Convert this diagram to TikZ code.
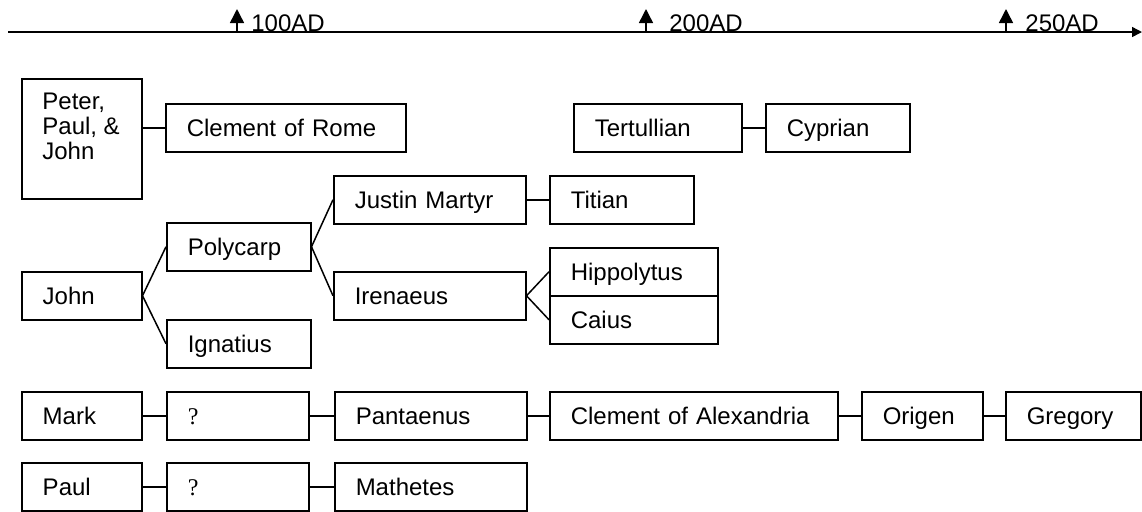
\documentclass[tikz,border=0pt]{standalone}
\usepackage{fontspec}
\setmainfont{Liberation Sans}
\newfontfamily\qmarkfont{Liberation Serif}
\usetikzlibrary{arrows.meta}

\begin{document}
\begin{tikzpicture}[
        x=0.5pt, y=-0.5pt,
        every node/.style={font=\fontsize{12}{12.5}\selectfont},
        father-node/.style={draw, line width=0.75pt, anchor=north west,
            inner xsep=10.5pt, inner ysep=0pt, minimum height=24pt,
            text height=8.6pt, text depth=0pt, align=left, text width=#1},
        year-node/.style={anchor=base west, inner sep=0pt},
        link/.style={line width=0.75pt}
    ]
        \useasboundingbox (0,0) rectangle (1142,511);

        % time line
        \coordinate (axis-start) at (8,32);
        \coordinate (axis-end) at (1142,32);
        \draw[link, -{Triangle[length=5pt,width=5pt]}] (axis-start) -- (axis-end);

        \coordinate (y100-foot) at (237,32);
        \coordinate (y100-head) at (237,9);
        \coordinate (y200-foot) at (646,32);
        \coordinate (y200-head) at (646,9);
        \coordinate (y250-foot) at (1006,32);
        \coordinate (y250-head) at (1006,9);
        \draw[link, -{Triangle[length=7pt,width=7pt]}] (y100-foot) -- (y100-head);
        \draw[link, -{Triangle[length=7pt,width=7pt]}] (y200-foot) -- (y200-head);
        \draw[link, -{Triangle[length=7pt,width=7pt]}] (y250-foot) -- (y250-head);
        \node[year-node] (y100) at (251,31) {100AD};
        \node[year-node] (y200) at (669,31) {200AD};
        \node[year-node] (y250) at (1025,31) {250AD};

        % apostles
        \node[draw, line width=0.75pt, anchor=north west, minimum width=60pt,
            minimum height=60pt] (apostles) at (21,78) {};
        \node[anchor=north west, inner sep=0pt, align=left] (apostles-text) at (42,93) {Peter,\\Paul, \&\\John};
        \node[father-node=99pt] (clement-rome) at (165,103) {Clement of Rome};

        \node[father-node=63pt] (tertullian) at (573,103) {Tertullian};
        \node[father-node=51pt] (cyprian) at (765,103) {Cyprian};

        % John's line
        \node[father-node=39pt] (john) at (21,271) {John};
        \node[father-node=51pt] (polycarp) at (166,222) {Polycarp};
        \node[father-node=51pt] (ignatius) at (166,319) {Ignatius};
        \node[father-node=75pt] (justin) at (333,175) {Justin Martyr};
        \node[father-node=51pt] (titian) at (549,175) {Titian};
        \node[father-node=75pt] (irenaeus) at (333,271) {Irenaeus};
        \node[father-node=63pt] (hippolytus) at (549,247) {Hippolytus};
        \node[father-node=63pt] (caius) at (549,295) {Caius};

        % Mark's line
        \node[father-node=39pt] (mark) at (21,391) {Mark};
        \node[father-node=50pt] (mark-q) at (166,391) {\qmarkfont ?};
        \node[father-node=75pt] (pantaenus) at (334,391) {Pantaenus};
        \node[father-node=123pt] (clement-alex) at (549,391) {Clement of Alexandria};
        \node[father-node=39.5pt] (origen) at (861,391) {Origen};
        \node[father-node=46.5pt] (gregory) at (1005,391) {Gregory};

        % Paul's line
        \node[father-node=39pt] (paul) at (21,462) {Paul};
        \node[father-node=50pt] (paul-q) at (166,462) {\qmarkfont ?};
        \node[father-node=75pt] (mathetes) at (334,462) {Mathetes};

        \draw[link] (clement-rome.west -| apostles.east) -- (clement-rome.west);
        \draw[link] (tertullian) -- (cyprian);
        \draw[link] (john.east) -- (polycarp.west);
        \draw[link] (john.east) -- (ignatius.west);
        \draw[link] (polycarp.east) -- (justin.west);
        \draw[link] (polycarp.east) -- (irenaeus.west);
        \draw[link] (justin) -- (titian);
        \draw[link] (irenaeus.east) -- (hippolytus.west);
        \draw[link] (irenaeus.east) -- (caius.west);
        \draw[link] (mark) -- (mark-q);
        \draw[link] (mark-q) -- (pantaenus);
        \draw[link] (pantaenus) -- (clement-alex);
        \draw[link] (clement-alex) -- (origen);
        \draw[link] (origen) -- (gregory);
        \draw[link] (paul) -- (paul-q);
        \draw[link] (paul-q) -- (mathetes);
    \end{tikzpicture}
\end{document}
